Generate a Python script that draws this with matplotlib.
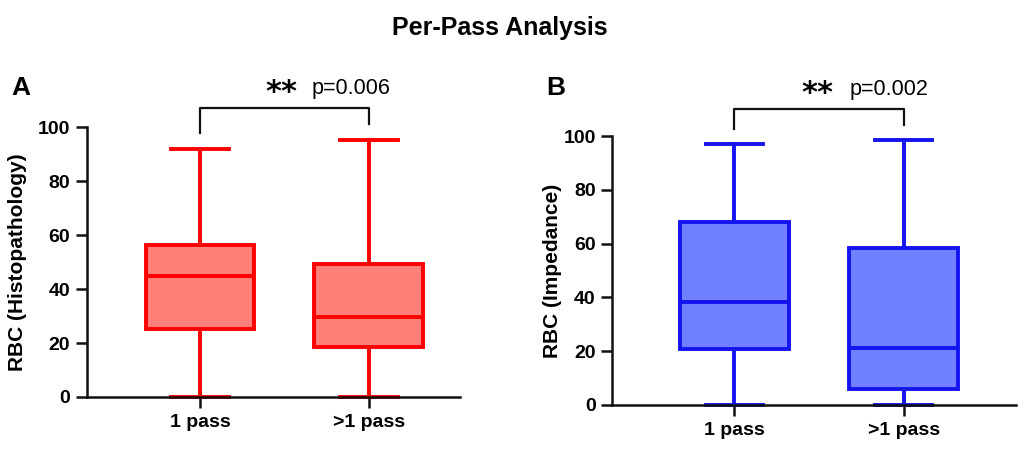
import matplotlib
matplotlib.use("Agg")
import matplotlib.pyplot as plt

plt.rcParams['font.family'] = ['Liberation Sans', 'DejaVu Sans']

groups = ["1 pass", ">1 pass"]

# box summary per panel: whislo, q1, med, q3, whishi
histo_stats = [
    dict(whislo=0.0, q1=25.2, med=44.9, q3=56.3, whishi=91.9),
    dict(whislo=0.0, q1=18.5, med=29.6, q3=49.3, whishi=95.2),
]
imped_stats = [
    dict(whislo=0.0, q1=20.9, med=38.4, q3=68.1, whishi=97.0),
    dict(whislo=0.0, q1=5.9, med=21.2, q3=58.4, whishi=98.5),
]
p_values = ["p=0.006", "p=0.002"]
panel_labels = ["A", "B"]
y_labels = ["RBC (Histopathology)", "RBC (Impedance)"]

fig = plt.figure(figsize=(10.24, 4.62), dpi=100)
fig.text(0.488, 0.94, "Per-Pass Analysis", ha='center', va='center',
         fontsize=18, fontweight='bold')

panels = [
    dict(rect=[0.085, 0.1407, 0.364, 0.584], xlim=(0.331, 2.538),
         stats=histo_stats, edge='#ff0000', fill='#ff8078',
         bracket=(107, 97.8, 101.0), star_x=1.574, p_x=1.662, txt_y=114.4,
         label_x=0.011, ylab_x=-0.161),
    dict(rect=[0.598, 0.1234, 0.394, 0.582], xlim=(0.278, 2.663),
         stats=imped_stats, edge='#1414f0', fill='#7080ff',
         bracket=(110, 102.6, 104.0), star_x=1.586, p_x=1.680, txt_y=117.5,
         label_x=0.533, ylab_x=-0.124),
]

for i, p in enumerate(panels):
    ax = fig.add_axes(p['rect'])
    stats = []
    for g, s in zip(groups, p['stats']):
        d = dict(s)
        d['label'] = g
        d['fliers'] = []
        stats.append(d)
    lw = 2.8
    bp = ax.bxp(stats, positions=[1, 2], widths=0.645, capwidths=0.34,
                patch_artist=True, showfliers=False,
                boxprops=dict(facecolor=p['fill'], edgecolor=p['edge'], linewidth=lw),
                medianprops=dict(color=p['edge'], linewidth=lw),
                whiskerprops=dict(color=p['edge'], linewidth=lw),
                capprops=dict(color=p['edge'], linewidth=lw))
    for art in bp['caps'] + bp['whiskers'] + bp['boxes'] + bp['medians']:
        art.set_clip_on(False)

    ax.set_xlim(*p['xlim'])
    ax.set_ylim(0, 100)
    ax.set_yticks([0, 20, 40, 60, 80, 100])
    ax.set_xticks([1, 2])
    ax.set_xticklabels(groups)
    for side in ['top', 'right']:
        ax.spines[side].set_visible(False)
    for side in ['left', 'bottom']:
        ax.spines[side].set_linewidth(1.8)
        ax.spines[side].set_color('#111111')
    ax.tick_params(axis='both', width=1.8, length=8, color='#111111',
                   labelsize=14, pad=4)
    for lab in ax.get_xticklabels() + ax.get_yticklabels():
        lab.set_fontweight('bold')
    ax.set_ylabel(y_labels[i], fontsize=15, fontweight='bold')
    ax.yaxis.set_label_coords(p['ylab_x'], 0.5)

    top, left_end, right_end = p['bracket']
    ax.plot([1, 1, 2, 2], [left_end, top, top, right_end], color='#111111',
            linewidth=1.6, clip_on=False)
    ax.text(p['star_x'], p['txt_y'] - 1.5, "**", ha='right', va='center',
            fontsize=22, fontweight='bold', family=['DejaVu Sans'], clip_on=False)
    ax.text(p['p_x'], p['txt_y'], p_values[i], ha='left', va='center',
            fontsize=15.5, clip_on=False)

    fig.text(p['label_x'], 0.81, panel_labels[i], fontsize=19,
             fontweight='bold', ha='left', va='center')

fig.savefig("out.png", dpi=100)
